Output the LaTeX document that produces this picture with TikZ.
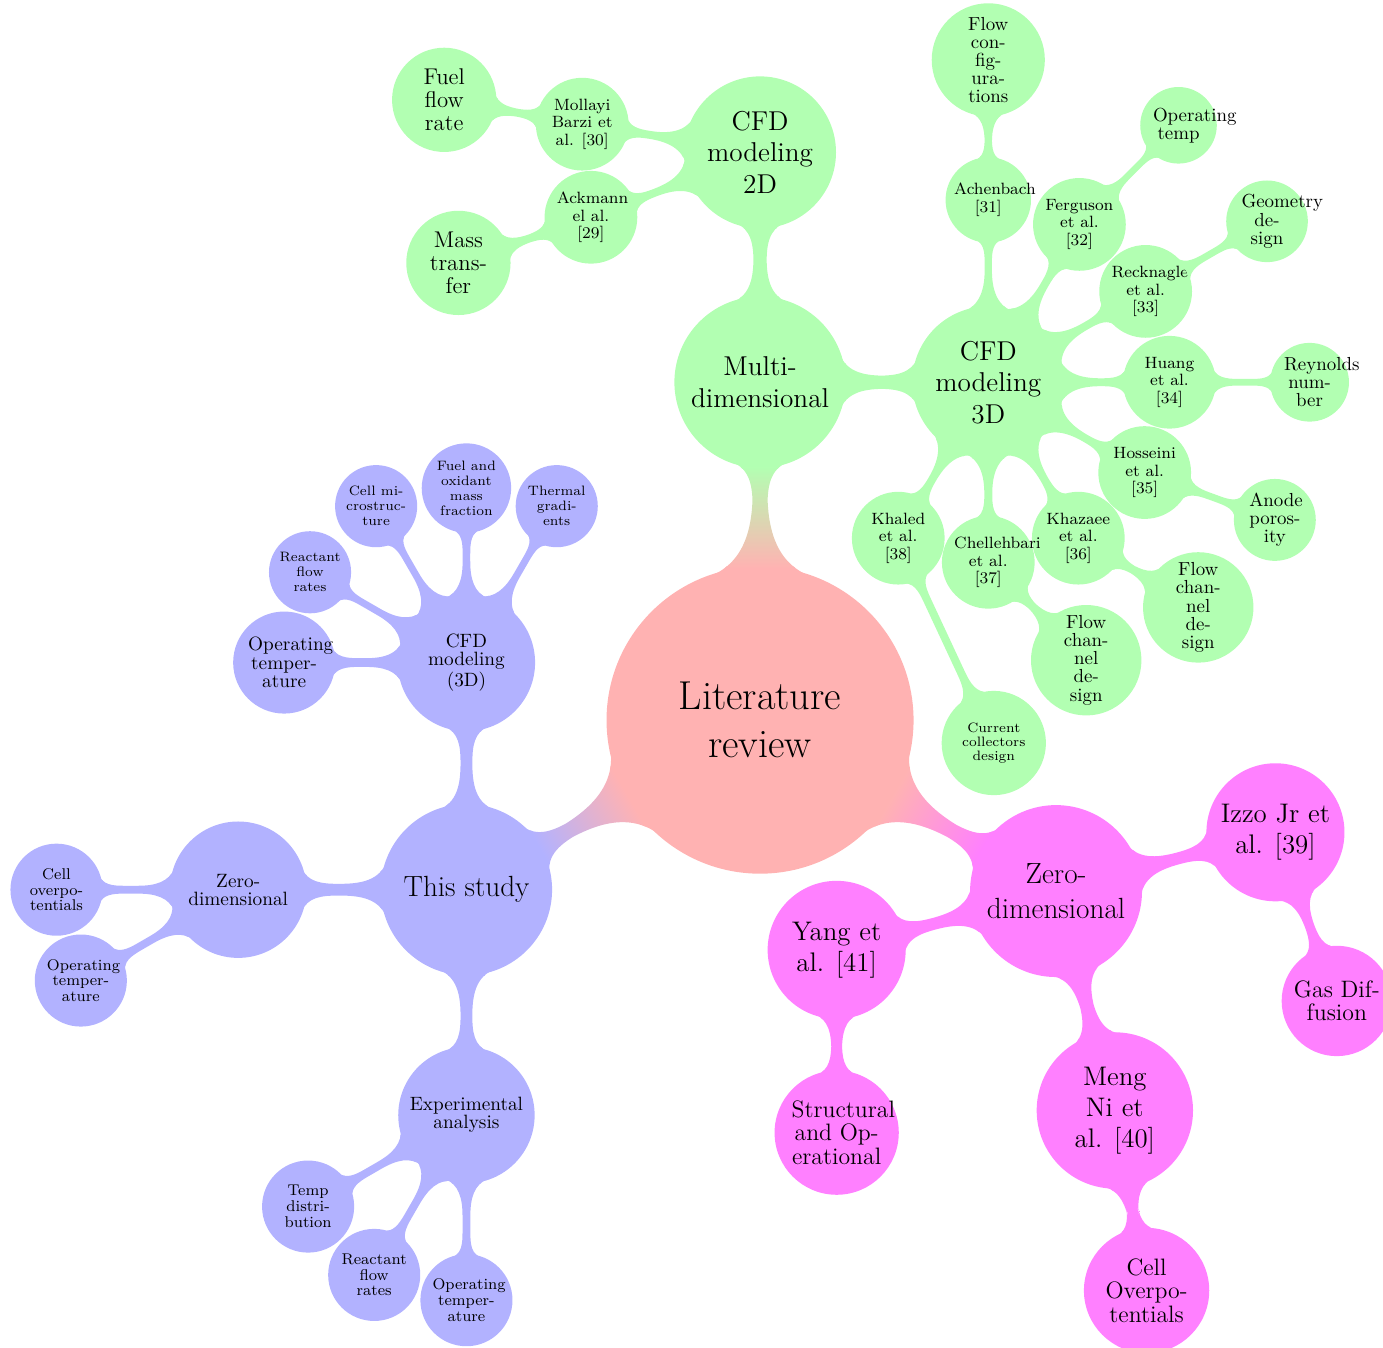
\documentclass[tikz,border=0pt]{standalone}
\usepackage{xcolor}
\usepackage{tikz}
\usetikzlibrary{mindmap,calc}
\definecolor{zeromag}{rgb}{1,0.5,1}
\hyphenation{temper-ature distri-bution con-fig-ura-tions}

\begin{document}
\begin{tikzpicture}[
  mindmap, text=black,
  lit/.style={concept, concept color=red!30, fill=red!30, align=flush center,
              minimum size=5.5cm, text width=3.5cm,
              font=\fontsize{20.74}{24.5}\selectfont},
  lvlone/.style={concept, concept color=#1, fill=#1, align=flush center,
              minimum size=3.05cm, text width=2.8cm, inner sep=1pt,
              font=\fontsize{15}{18}\selectfont},
  bmid/.style={concept, concept color=blue!30, fill=blue!30, align=flush center,
              minimum size=2.42cm, text width=60pt, inner sep=1pt,
              font=\fontsize{9.9}{9.3}\selectfont},
  bleaf/.style={concept, concept color=blue!30, fill=blue!30, align=flush center,
              minimum size=1.62cm, text width=34.8pt, inner sep=1pt,
              font=\fontsize{8}{8.1}\selectfont},
  bsmall/.style={concept, concept color=blue!30, fill=blue!30, align=flush center,
              minimum size=1.44cm, text width=31.2pt, inner sep=1pt,
              font=\fontsize{7}{7.7}\selectfont},
  gmid/.style={concept, concept color=green!30, fill=green!30, align=flush center,
              minimum size=2.7cm, text width=2cm, inner sep=1pt,
              font=\fontsize{14}{16.2}\selectfont},
  gauth/.style={concept, concept color=green!30, fill=green!30, align=flush center,
              minimum size=1.5cm, text width=35pt, inner sep=1pt,
              font=\fontsize{8.4}{9.1}\selectfont},
  gleaf/.style={concept, concept color=green!30, fill=green!30, align=flush center,
              minimum size=1.34cm, text width=26.2pt, inner sep=1pt,
              font=\fontsize{9.7}{9.3}\selectfont},
  gbig/.style={gleaf, minimum size=1.84cm, text width=1.1cm,
              font=\fontsize{11.7}{12}\selectfont},
  mmid/.style={concept, concept color=zeromag, fill=zeromag, align=flush center,
              minimum size=2.45cm, text width=2.1cm, inner sep=1pt,
              font=\fontsize{13.8}{16}\selectfont},
  mleaf/.style={concept, concept color=zeromag, fill=zeromag, align=flush center,
              minimum size=1.95cm, text width=46.3pt, inner sep=1pt,
              font=\fontsize{12.2}{12}\selectfont},
  rootlink/.style={line width=8pt,
              circle connection bar switch color=from (red!30) to (#1)},
  midlink/.style={line width=6pt,
              circle connection bar switch color=from (#1) to (#1)},
  leaflink/.style={line width=4.6pt,
              circle connection bar switch color=from (#1) to (#1)},
  tiplink/.style={line width=3.7pt,
              circle connection bar switch color=from (#1) to (#1)}]
\useasboundingbox (-13.72,-11.32) rectangle (11.245,13.0);

% root and main branches
\node[lit] (rev) at (0,0) {Literature review};
\node[lvlone=blue!30] (study) at ($(rev)+(210:6.12)$) {This study};
\node[lvlone=green!30, font=\fontsize{14}{16.2}\selectfont]
                      (multi) at ($(rev)+(90:6.1)$) {Multi-dimensional};
\node[lvlone=zeromag] (zero)  at ($(rev)+(-30:6.17)$) {Zero-dimensional};

% this study
\node[bmid] (bzero) at ($(study)+(180:4.12)$) {Zero-dimensional};
\node[bmid] (bcfd)  at ($(study)+(90:4.1)$)   {CFD modeling (3D)};
\node[bmid] (bexp)  at ($(study)+(270:4.07)$) {Experimental analysis};
\node[bleaf] (bzcell) at ($(bzero)+(180:3.28)$) {Cell overpotentials};
\node[bleaf] (bzop)   at ($(bzero)+(210:3.28)$) {Operating temperature};
\node[bleaf, minimum size=1.8cm, text width=1.3cm, font=\fontsize{9.9}{9.4}\selectfont]
             (bcop)    at ($(bcfd)+(180:3.29)$) {Operating temperature};
\node[bsmall] (bcreac)  at ($(bcfd)+(150:3.26)$) {Reactant flow rates};
\node[bsmall] (bcmicro) at ($(bcfd)+(120:3.26)$) {Cell microstructure};
\node[bsmall] (bcfuel)  at ($(bcfd)+(90:3.15)$)  {Fuel and oxidant mass fraction};
\node[bsmall] (bctherm) at ($(bcfd)+(60:3.26)$)  {Thermal gradients};
\node[bleaf] (bxtemp) at ($(bexp)+(210:3.3)$)  {Temp distribution};
\node[bleaf] (bxreac) at ($(bexp)+(240:3.33)$) {Reactant flow rates};
\node[bleaf] (bxop)   at ($(bexp)+(270:3.34)$) {Operating temperature};

% multi-dimensional
\node[gmid] (g2d) at ($(multi)+(90:4.15)$) {CFD modeling 2D};
\node[gmid] (g3d) at ($(multi)+(0:4.12)$)  {CFD modeling 3D};
\node[gauth] (mollayi) at ($(g2d)+(171:3.25)$) {Mollayi Barzi et al. [30]};
\node[gauth] (ackmann) at ($(g2d)+(201:3.27)$) {Ackmann el al. [29]};
\node[gbig] (fuel) at ($(mollayi)+(170:2.53)$) {Fuel flow rate};
\node[gbig] (mass) at ($(ackmann)+(199:2.53)$) {Mass transfer};
\node[gauth] (achen)  at ($(g3d)+(90:3.29)$)   {Achenbach [31]};
\node[gauth] (fergus) at ($(g3d)+(60:3.29)$)   {Ferguson et al. [32]};
\node[gauth] (reckn)  at ($(g3d)+(30:3.28)$)   {Recknagle et al. [33]};
\node[gauth] (huang)  at ($(g3d)+(0:3.27)$)    {Huang et al. [34]};
\node[gauth] (hossei) at ($(g3d)+(-30:3.26)$)  {Hosseini et al. [35]};
\node[gauth] (khazae) at ($(g3d)+(-60:3.25)$)  {Khazaee et al. [36]};
\node[gauth] (chelle) at ($(g3d)+(-90:3.25)$)  {Chellehbari et al. [37]};
\node[gauth] (khaled) at ($(g3d)+(-120:3.25)$) {Khaled et al. [38]};
\node[gleaf, minimum size=2cm] (flowconf) at ($(achen)+(90:2.53)$) {Flow configurations};
\node[gleaf] (optemp) at ($(fergus)+(45:2.53)$)  {Operating temp};
\node[gleaf] (geom)   at ($(reckn)+(30:2.53)$)   {Geometry design};
\node[gleaf] (reyn)   at ($(huang)+(0:2.53)$)    {Reynolds number};
\node[gleaf] (anode)  at ($(hossei)+(-20:2.5)$)  {Anode porosity};
\node[gleaf] (flowch) at ($(khazae)+(-30:2.5)$)  {Flow channel design};
\node[gleaf] (flowchb) at ($(chelle)+(-45:2.5)$) {Flow channel design};
\node[gleaf, minimum size=1.84cm, text width=1.2cm, font=\fontsize{7}{7.3}\selectfont]
             (collect) at ($(khaled)+(-65:4.08)$) {Current collectors design};

% zero-dimensional
\node[mmid] (izzo) at ($(zero)+(15:4.1)$)  {Izzo Jr et al. [39]};
\node[mmid, minimum size=2.78cm, text width=1.6cm]
            (meng) at ($(zero)+(-75:4.1)$) {Meng Ni et al. [40]};
\node[mmid] (yang) at ($(zero)+(195:4.1)$) {Yang et al. [41]};
\node[mleaf] (gasdif) at ($(izzo)+(-70:3.24)$) {Gas Diffusion};
\node[mleaf, minimum size=2.22cm] (cellov) at ($(meng)+(-80:3.3)$) {Cell Overpotentials};
\node[mleaf, minimum size=2.2cm] (struct) at ($(yang)+(270:3.3)$) {Structural and Operational};

\path (rev) to[rootlink=blue!30] (study);
\path (rev) to[rootlink=green!30] (multi);
\path (rev) to[rootlink=zeromag] (zero);
\path (study) to[midlink=blue!30] (bzero);
\path (study) to[midlink=blue!30] (bcfd);
\path (study) to[midlink=blue!30] (bexp);
\path (bzero) to[leaflink=blue!30] (bzcell);
\path (bzero) to[leaflink=blue!30] (bzop);
\path (bcfd) to[leaflink=blue!30] (bcop);
\path (bcfd) to[leaflink=blue!30] (bcreac);
\path (bcfd) to[leaflink=blue!30] (bcmicro);
\path (bcfd) to[leaflink=blue!30] (bcfuel);
\path (bcfd) to[leaflink=blue!30] (bctherm);
\path (bexp) to[leaflink=blue!30] (bxtemp);
\path (bexp) to[leaflink=blue!30] (bxreac);
\path (bexp) to[leaflink=blue!30] (bxop);
\path (multi) to[midlink=green!30] (g2d);
\path (multi) to[midlink=green!30] (g3d);
\path (g2d) to[leaflink=green!30] (mollayi);
\path (g2d) to[leaflink=green!30] (ackmann);
\path (mollayi) to[tiplink=green!30] (fuel);
\path (ackmann) to[tiplink=green!30] (mass);
\path (g3d) to[leaflink=green!30] (achen);
\path (g3d) to[leaflink=green!30] (fergus);
\path (g3d) to[leaflink=green!30] (reckn);
\path (g3d) to[leaflink=green!30] (huang);
\path (g3d) to[leaflink=green!30] (hossei);
\path (g3d) to[leaflink=green!30] (khazae);
\path (g3d) to[leaflink=green!30] (chelle);
\path (g3d) to[leaflink=green!30] (khaled);
\path (achen) to[tiplink=green!30] (flowconf);
\path (fergus) to[tiplink=green!30] (optemp);
\path (reckn) to[tiplink=green!30] (geom);
\path (huang) to[tiplink=green!30] (reyn);
\path (hossei) to[tiplink=green!30] (anode);
\path (khazae) to[tiplink=green!30] (flowch);
\path (chelle) to[tiplink=green!30] (flowchb);
\path (khaled) to[tiplink=green!30] (collect);
\path (zero) to[midlink=zeromag] (izzo);
\path (zero) to[midlink=zeromag] (meng);
\path (zero) to[midlink=zeromag] (yang);
\path (izzo) to[leaflink=zeromag] (gasdif);
\path (meng) to[leaflink=zeromag] (cellov);
\path (yang) to[leaflink=zeromag] (struct);
\end{tikzpicture}
\end{document}
